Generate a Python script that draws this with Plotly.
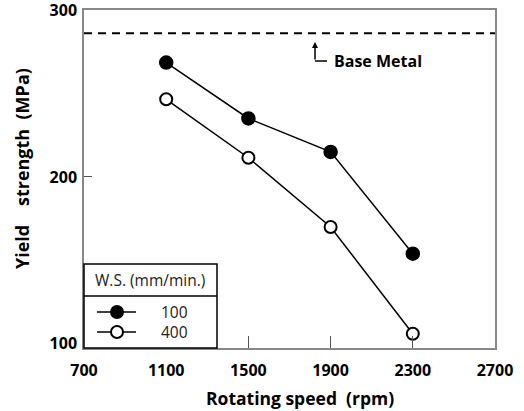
import plotly.graph_objects as go

speeds = [1100, 1500, 1900, 2300]
ys_100 = [268.5, 235, 215, 154]
ys_400 = [246.5, 211.5, 170, 106]
base_metal = 286
x_ticks = [700, 1100, 1500, 1900, 2300, 2700]
y_ticks = [100, 200, 300]

W, H = 524, 411
L, R, T, B = 84, 29, 10, 63
pw, ph = W - L - R, H - T - B

def px(x):  # pixel x -> paper
    return (x - L) / pw

def py(y):  # pixel y -> paper
    return 1 - (y - T) / ph

FONT = "Open Sans"
NB = "\u00a0"

fig = go.Figure()
fig.add_trace(go.Scatter(x=speeds, y=ys_100, mode="lines+markers",
                         line=dict(color="black", width=1.5),
                         marker=dict(size=13, color="black", line=dict(color="black", width=1.5)),
                         showlegend=False))
fig.add_trace(go.Scatter(x=speeds, y=ys_400, mode="lines+markers",
                         line=dict(color="black", width=1.5),
                         marker=dict(size=12, color="white", line=dict(color="black", width=2)),
                         showlegend=False))

shapes = []
shapes.append(dict(type="line", xref="paper", yref="y", x0=0, x1=1, y0=base_metal, y1=base_metal,
                   line=dict(color="black", width=2, dash="8px,6px")))
shapes.append(dict(type="line", xref="paper", yref="paper", x0=px(315), x1=px(327), y0=py(61), y1=py(61),
                   line=dict(color="black", width=1.5)))
shapes.append(dict(type="rect", xref="paper", yref="paper", x0=px(84), x1=px(217), y0=py(264), y1=py(348),
                   line=dict(color="black", width=1.5), fillcolor="white", layer="above"))
shapes.append(dict(type="line", xref="paper", yref="paper", x0=px(84), x1=px(217), y0=py(296), y1=py(296),
                   line=dict(color="black", width=1.5), layer="above"))
for yy, filled in [(312, True), (332, False)]:
    shapes.append(dict(type="line", xref="paper", yref="paper", x0=px(97), x1=px(136), y0=py(yy), y1=py(yy),
                       line=dict(color="black", width=1.5), layer="above"))
    r = 6
    shapes.append(dict(type="circle", xref="paper", yref="paper", x0=px(117 - r), x1=px(117 + r),
                       y0=py(yy + r), y1=py(yy - r),
                       line=dict(color="black", width=2), fillcolor="black" if filled else "white",
                       layer="above"))

annotations = [
    dict(xref="paper", yref="paper", x=px(315), y=py(42), ax=0, ay=19, axref="pixel", ayref="pixel",
         showarrow=True, arrowhead=2, arrowsize=0.8, arrowwidth=1.5, arrowcolor="black", text=""),
    dict(xref="paper", yref="paper", x=px(332), y=py(61), xanchor="left", yanchor="middle", showarrow=False,
         text="<b>Base Metal</b>", font=dict(family=FONT, size=16, color="black")),
    dict(xref="paper", yref="paper", x=px(150), y=py(280), xanchor="center", yanchor="middle", showarrow=False,
         text="W.S. (mm/min.)", font=dict(family=FONT, size=15.5, color="#222")),
    dict(xref="paper", yref="paper", x=px(174), y=py(312), xanchor="center", yanchor="middle", showarrow=False,
         text="100", font=dict(family=FONT, size=15.5, color="#222")),
    dict(xref="paper", yref="paper", x=px(174), y=py(332), xanchor="center", yanchor="middle", showarrow=False,
         text="400", font=dict(family=FONT, size=15.5, color="#222")),
    # axis titles
    dict(xref="paper", yref="paper", x=px(300), y=py(398), xanchor="center", yanchor="middle", showarrow=False,
         text=f"<b>Rotating speed{NB}{NB}(rpm)</b>", font=dict(family=FONT, size=17.5, color="black")),
    dict(xref="paper", yref="paper", x=px(22), y=py(169), xanchor="center", yanchor="middle", showarrow=False,
         textangle=-90,
         text=f"<b>Yield{NB}{NB}{NB}{NB}strength{NB}{NB}(MPa)</b>",
         font=dict(family=FONT, size=18, color="black")),
]

fig.update_layout(
    width=W, height=H, margin=dict(l=L, r=R, t=T, b=B),
    paper_bgcolor="white", plot_bgcolor="white",
    font=dict(family=FONT, color="black"),
    shapes=shapes, annotations=annotations,
    xaxis=dict(range=[700, 2700], tickvals=x_ticks, ticktext=[f"<b>{v}</b>" for v in x_ticks],
               ticks="inside", ticklen=12, tickcolor="#555", tickwidth=1.2, automargin=False,
               ticklabeloverflow="allow",
               showline=True, linecolor="#888", linewidth=1.5, mirror=True, showgrid=False, zeroline=False,
               tickfont=dict(family=FONT, size=16, color="black"), ticklabelstandoff=7),
    yaxis=dict(range=[97.5, 300], tickvals=y_ticks, ticktext=[f"<b>{v}</b>" for v in y_ticks],
               ticks="inside", ticklen=8, tickcolor="#555", tickwidth=1.2, automargin=False,
               ticklabeloverflow="allow",
               showline=True, linecolor="#888", linewidth=1.5, mirror=True, showgrid=False, zeroline=False,
               tickfont=dict(family=FONT, size=16, color="black"), ticklabelstandoff=2),
)

fig.write_html("out.html")
